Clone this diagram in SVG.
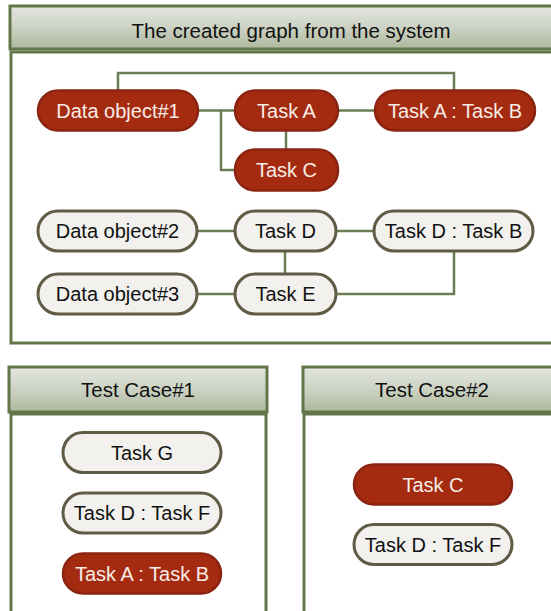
<svg xmlns="http://www.w3.org/2000/svg" width="551" height="611" viewBox="0 0 551 611">
  <defs>
    <linearGradient id="hdrGrad" x1="0" y1="0" x2="0" y2="1">
      <stop offset="0" stop-color="#e4e6e1"/>
      <stop offset="0.5" stop-color="#ccd2c3"/>
      <stop offset="1" stop-color="#adb89d"/>
    </linearGradient>
    <style>
      .hdr { fill: url(#hdrGrad); stroke: #62764a; stroke-width: 3; }
      .body { fill: #ffffff; stroke: #62764a; stroke-width: 3; }
      .hdr-text { font-family: "Liberation Sans", Arial, sans-serif; font-size: 20.5px; fill: #111111; text-anchor: middle; }
      .red rect { fill: #a52b10; stroke: #8a2410; stroke-width: 2.5; }
      .red text { fill: #f7ece6; }
      .light rect { fill: #f2f1ee; stroke: #5f5b45; stroke-width: 3; }
      .light text { fill: #111111; }
      .node text { font-family: "Liberation Sans", Arial, sans-serif; font-size: 20px; text-anchor: middle; }
      .conn { fill: none; stroke: #6b7d52; stroke-width: 2.5; }
    </style>
  </defs>

  <!-- Panel: created graph -->
  <g id="panel-graph">
    <rect class="body" x="11" y="52" width="560" height="291"/>
    <rect class="hdr" x="10" y="6" width="560" height="43"/>
    <text class="hdr-text" x="291" y="38">The created graph from the system</text>
  </g>

  <!-- Panel: test case 1 -->
  <g id="panel-tc1">
    <rect class="body" x="11" y="414" width="255" height="210"/>
    <rect class="hdr" x="9" y="367" width="258" height="45"/>
    <text class="hdr-text" x="138" y="397">Test Case#1</text>
  </g>

  <!-- Panel: test case 2 -->
  <g id="panel-tc2">
    <rect class="body" x="304" y="414" width="260" height="210"/>
    <rect class="hdr" x="303" y="367" width="260" height="45"/>
    <text class="hdr-text" x="432" y="397">Test Case#2</text>
  </g>

  <!-- Connectors -->
  <g id="connectors">
    <polyline class="conn" points="118,91 118,73 454,73 454,91"/>
    <line class="conn" x1="198" y1="110.5" x2="235" y2="110.5"/>
    <polyline class="conn" points="221,110.5 221,170 235,170"/>
    <line class="conn" x1="338" y1="110.5" x2="375" y2="110.5"/>
    <line class="conn" x1="286" y1="131" x2="286" y2="149"/>
    <line class="conn" x1="197" y1="231" x2="235" y2="231"/>
    <line class="conn" x1="336" y1="231" x2="374" y2="231"/>
    <line class="conn" x1="197" y1="294" x2="235" y2="294"/>
    <line class="conn" x1="285" y1="251" x2="285" y2="274"/>
    <polyline class="conn" points="454,251 454,294 336,294"/>
  </g>

  <!-- Graph nodes -->
  <g id="n-data1" class="node red">
    <rect x="38" y="90.5" width="160" height="40" rx="20"/>
    <text x="118" y="117.7">Data object#1</text>
  </g>
  <g id="n-taskA" class="node red">
    <rect x="235" y="90.5" width="103" height="40" rx="20"/>
    <text x="286.5" y="117.7">Task A</text>
  </g>
  <g id="n-taskAB" class="node red">
    <rect x="375" y="90.5" width="160" height="40" rx="20"/>
    <text x="455" y="117.7">Task A : Task B</text>
  </g>
  <g id="n-taskC" class="node red">
    <rect x="235" y="149.5" width="103" height="41" rx="20"/>
    <text x="286.5" y="177.2">Task C</text>
  </g>
  <g id="n-data2" class="node light">
    <rect x="38" y="211" width="159" height="40" rx="20"/>
    <text x="117.5" y="238.2">Data object#2</text>
  </g>
  <g id="n-taskD" class="node light">
    <rect x="235" y="211" width="101" height="40" rx="20"/>
    <text x="285.5" y="238.2">Task D</text>
  </g>
  <g id="n-taskDB" class="node light">
    <rect x="374" y="211" width="159" height="40" rx="20"/>
    <text x="453.5" y="238.2">Task D : Task B</text>
  </g>
  <g id="n-data3" class="node light">
    <rect x="38" y="274" width="159" height="40" rx="20"/>
    <text x="117.5" y="301.2">Data object#3</text>
  </g>
  <g id="n-taskE" class="node light">
    <rect x="235" y="274" width="101" height="40" rx="20"/>
    <text x="285.5" y="301.2">Task E</text>
  </g>

  <!-- Test case 1 nodes -->
  <g id="tc1-taskG" class="node light">
    <rect x="63" y="432.5" width="158" height="40" rx="20"/>
    <text x="142" y="459.7">Task G</text>
  </g>
  <g id="tc1-taskDF" class="node light">
    <rect x="63" y="493" width="158" height="40" rx="20"/>
    <text x="142" y="520.2">Task D : Task F</text>
  </g>
  <g id="tc1-taskAB" class="node red">
    <rect x="63" y="553.5" width="158" height="40" rx="20"/>
    <text x="142" y="580.7">Task A : Task B</text>
  </g>

  <!-- Test case 2 nodes -->
  <g id="tc2-taskC" class="node red">
    <rect x="354" y="464.5" width="158" height="40" rx="20"/>
    <text x="433" y="491.7">Task C</text>
  </g>
  <g id="tc2-taskDF" class="node light">
    <rect x="354" y="524.5" width="158" height="40" rx="20"/>
    <text x="433" y="551.7">Task D : Task F</text>
  </g>
</svg>
